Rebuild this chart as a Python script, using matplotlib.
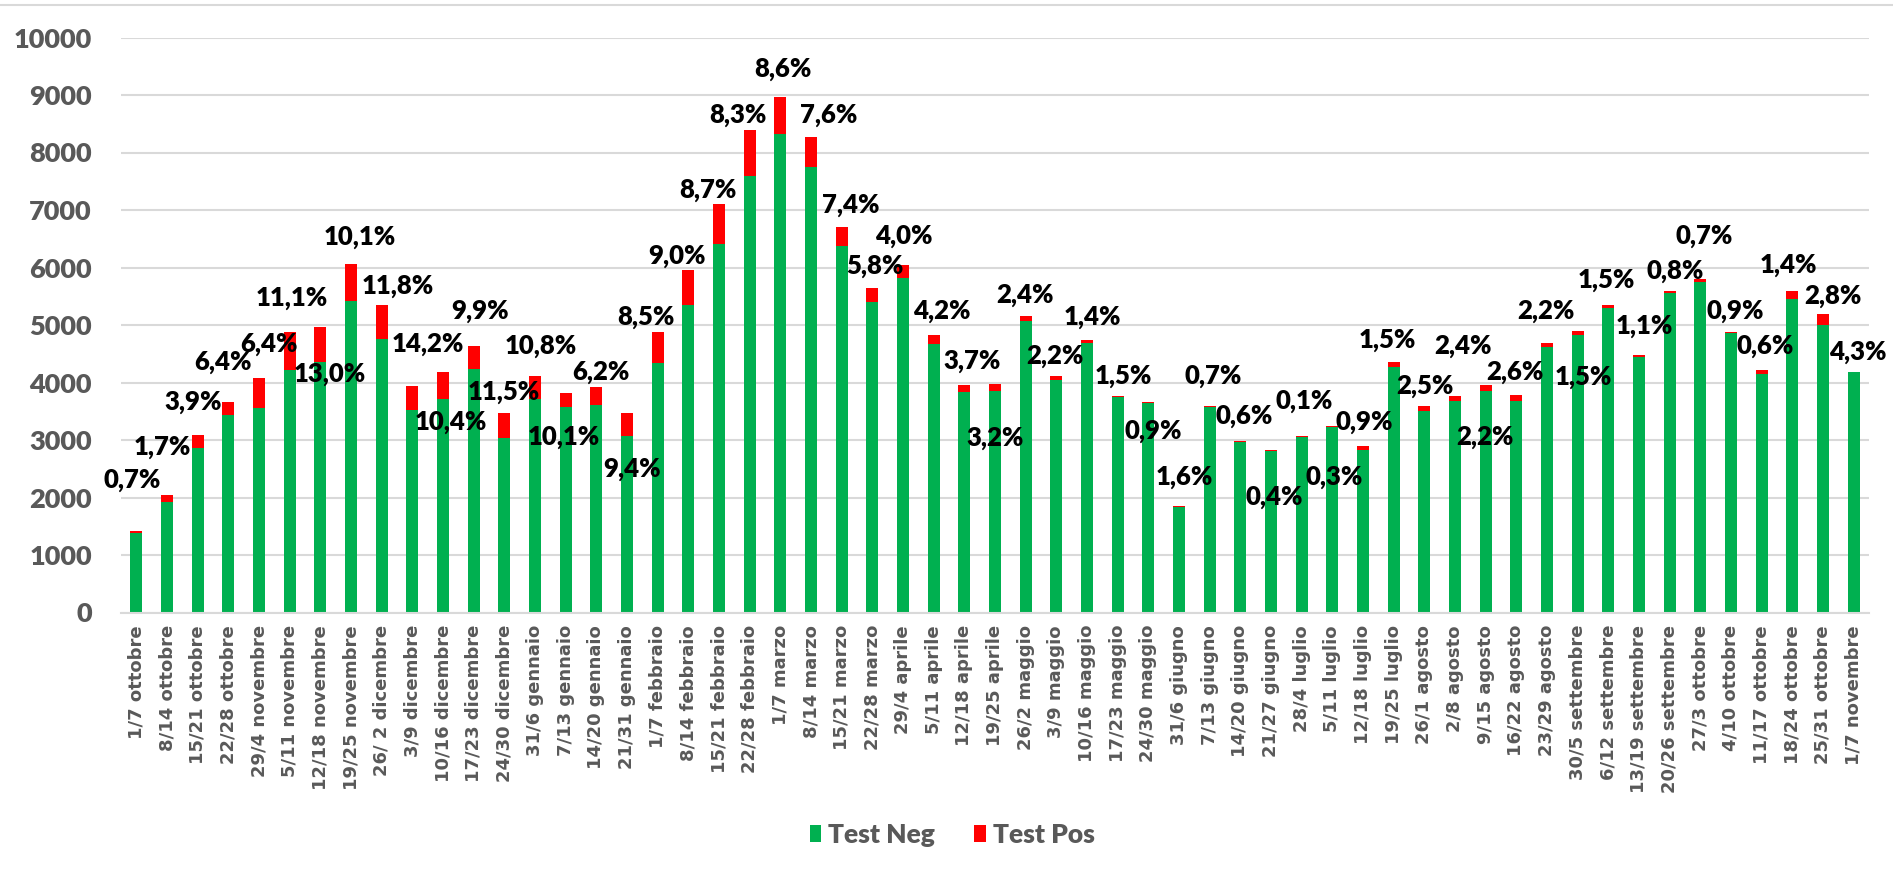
import matplotlib
matplotlib.use('Agg')
import matplotlib.pyplot as plt
from matplotlib.lines import Line2D

# weekly windows
weeks = ['1/7 ottobre', '8/14 ottobre', '15/21 ottobre', '22/28 ottobre', '29/4 novembre',
         '5/11 novembre', '12/18 novembre', '19/25 novembre', '26/ 2 dicembre', '3/9 dicembre',
         '10/16 dicembre', '17/23 dicembre', '24/30 dicembre', '31/6 gennaio', '7/13 gennaio',
         '14/20 gennaio', '21/31 gennaio', '1/7 febbraio', '8/14 febbraio', '15/21 febbraio',
         '22/28 febbraio', '1/7 marzo', '8/14 marzo', '15/21 marzo', '22/28 marzo',
         '29/4 aprile', '5/11 aprile', '12/18 aprile', '19/25 aprile', '26/2 maggio',
         '3/9 maggio', '10/16 maggio', '17/23 maggio', '24/30 maggio', '31/6 giugno',
         '7/13 giugno', '14/20 giugno', '21/27 giugno', '28/4 luglio', '5/11 luglio',
         '12/18 luglio', '19/25 luglio', '26/1 agosto', '2/8 agosto', '9/15 agosto',
         '16/22 agosto', '23/29 agosto', '30/5 settembre', '6/12 settembre', '13/19 settembre',
         '20/26 settembre', '27/3 ottobre', '4/10 ottobre', '11/17 ottobre', '18/24 ottobre',
         '25/31 ottobre', '1/7 novembre']

test_neg = [1385, 1930, 2860, 3428, 3560, 4218, 4355, 5426, 4765, 3515,
            3707, 4237, 3029, 3714, 3566, 3608, 3075, 4346, 5348, 6412,
            7598, 8326, 7756, 6366, 5404, 5825, 4674, 3830, 3852, 5061,
            4051, 4687, 3742, 3640, 1832, 3566, 2966, 2802, 3050, 3220,
            2824, 4269, 3500, 3683, 3856, 3683, 4611, 4822, 5295, 4438,
            5555, 5754, 4860, 4148, 5450, 5000, 4185]

test_pos = [30, 110, 230, 240, 515, 652, 603, 642, 583, 430,
            470, 397, 446, 397, 243, 314, 400, 528, 612, 695,
            791, 646, 512, 336, 237, 211, 148, 120, 120, 89,
            57, 47, 26, 20, 18, 22, 18, 18, 22, 30,
            66, 88, 95, 83, 100, 97, 70, 82, 50, 44,
            41, 44, 25, 66, 140, 185, 0]

pct = ['0,7%', '1,7%', '3,9%', '6,4%', '6,4%', '11,1%', '13,0%', '10,1%', '11,8%', '14,2%',
       '10,4%', '9,9%', '11,5%', '10,8%', '10,1%', '6,2%', '9,4%', '8,5%', '9,0%', '8,7%',
       '8,3%', '8,6%', '7,6%', '7,4%', '5,8%', '4,0%', '4,2%', '3,7%', '3,2%', '2,4%',
       '2,2%', '1,4%', '1,5%', '0,9%', '1,6%', '0,7%', '0,6%', '0,4%', '0,1%', '0,3%',
       '0,9%', '1,5%', '2,5%', '2,4%', '2,2%', '2,6%', '2,2%', '1,5%', '1,5%', '1,1%',
       '0,8%', '0,7%', '0,9%', '0,6%', '1,4%', '2,8%', '4,3%']

# where the percentage labels sit (hand-placed in the original)
label_x = [-0.12, 0.85, 1.85, 2.82, 4.31, 5.07, 6.31, 7.28, 8.51, 9.51,
           10.24, 11.22, 11.97, 13.2, 13.95, 15.16, 16.17, 16.63, 17.62, 18.63,
           19.63, 21.09, 22.58, 23.31, 24.07, 25.04, 26.26, 27.26, 28.0, 28.98,
           29.97, 31.19, 32.19, 33.17, 34.17, 35.12, 36.12, 37.1, 38.08, 39.05,
           40.05, 40.79, 42.02, 43.26, 43.99, 44.97, 45.96, 47.2, 47.94, 49.17,
           50.17, 51.14, 52.15, 53.12, 53.86, 55.33, 56.13]
label_y = [2345, 2910, 3700, 4400, 4710, 5500, 4184, 6560, 5720, 4710,
           3350, 5287, 3880, 4666, 3083, 4216, 2540, 5170, 6235, 7390,
           8692, 9490, 8692, 7127, 6063, 6593, 5286, 4405, 3070, 5561,
           4494, 5182, 4150, 3187, 2395, 4145, 3463, 2042, 3724, 2390,
           3358, 4768, 3975, 4666, 3083, 4219, 5286, 4129, 5815, 5024,
           5974, 6593, 5286, 4666, 6077, 5547, 4563]

GREEN = '#00B050'
RED = '#FF0000'
GRID = '#D9D9D9'
GREY = '#595959'

fig = plt.figure(figsize=(18.93, 8.76), dpi=100)
ax = fig.add_axes([121 / 1893, 1 - 612.5 / 876, (1869 - 121) / 1893, (612.5 - 37.5) / 876])

x = list(range(len(weeks)))
b1 = ax.bar(x, test_neg, width=0.4, color=GREEN, label='Test Neg', zorder=3)
b2 = ax.bar(x, test_pos, width=0.4, bottom=test_neg, color=RED, label='Test Pos', zorder=3)

for lx, ly, t in zip(label_x, label_y, pct):
    ax.text(lx, ly, t, ha='center', va='center_baseline', fontsize=18.5,
            fontweight='heavy', family='Lato', color='black', zorder=4)

ax.set_xlim(-0.5, len(weeks) - 0.5)
ax.set_ylim(0, 10000)
ax.set_yticks(range(0, 10001, 1000))
ax.set_yticklabels([str(v) for v in range(0, 10001, 1000)],
                   fontsize=19.5, fontweight='heavy', family='Lato', color=GREY)
ax.set_xticks(x)
ax.set_xticklabels(weeks, rotation=90, fontsize=13, fontweight='bold',
                   family='DejaVu Sans', color=GREY, va='top', ha='center')
ax.tick_params(axis='y', length=0, pad=21)
ax.tick_params(axis='x', length=0, pad=9)

ax.grid(axis='y', color=GRID, linewidth=1.5, zorder=0)
ax.set_axisbelow(True)
for s in ['top', 'left', 'right']:
    ax.spines[s].set_visible(False)
ax.spines['bottom'].set_color(GRID)
ax.spines['bottom'].set_linewidth(1.5)
ax.spines['bottom'].set_zorder(4)

# chart border line along the top
fig.add_artist(Line2D([0, 1], [1 - 5 / 876, 1 - 5 / 876], color=GRID, linewidth=1.5,
                      transform=fig.transFigure))

leg = fig.legend(handles=[b1, b2], loc='center', bbox_to_anchor=(0.503, 0.047),
                 ncol=2, frameon=False, handlelength=0.45, handleheight=0.65,
                 handletextpad=0.25, columnspacing=1.5,
                 prop={'family': 'Lato', 'weight': 'heavy', 'size': 19})
for t in leg.get_texts():
    t.set_color(GREY)

fig.savefig('out.png', dpi=100, facecolor='white')
